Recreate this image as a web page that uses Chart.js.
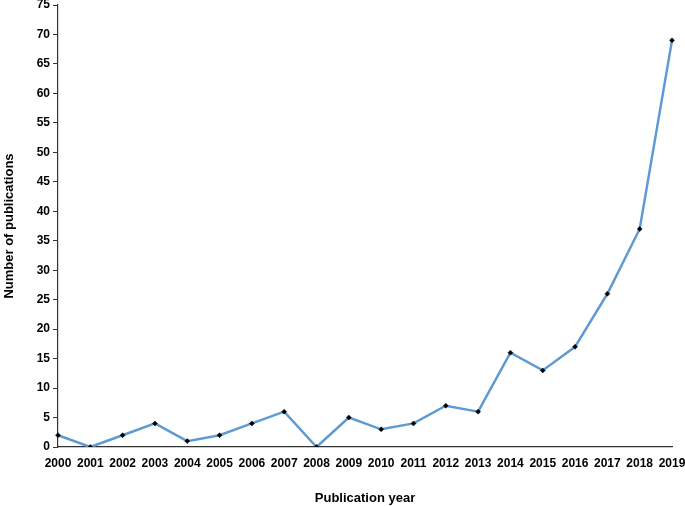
<!DOCTYPE html>
<html lang="en">
<head>
  <meta charset="UTF-8" />
  <title>Publications per year</title>
  <script src="https://cdn.jsdelivr.net/npm/chart.js"></script>
  <style>
    html, body { margin: 0; padding: 0; background: #fff; }
    #wrap { width: 685px; height: 506px; position: relative; }
  </style>
</head>
<body>
  <div id="wrap"><canvas id="grafico"></canvas></div>
  <script>
    const years = ['2000', '2001', '2002', '2003', '2004', '2005', '2006', '2007', '2008', '2009',
                   '2010', '2011', '2012', '2013', '2014', '2015', '2016', '2017', '2018', '2019'];
    const publications = [2, 0, 2, 4, 1, 2, 4, 6, 0, 5, 3, 4, 7, 6, 16, 13, 17, 26, 37, 69];

    const fuente = { family: "'Liberation Sans', Arial, sans-serif", size: 12, weight: 'bold' };

    new Chart(document.getElementById('grafico'), {
      type: 'line',
      data: {
        labels: years,
        datasets: [{
          data: publications,
          borderColor: '#5f9bd3',
          borderWidth: 2.5,
          tension: 0,
          pointStyle: 'rectRot',
          pointRadius: 2.5,
          pointBackgroundColor: '#000',
          pointBorderColor: '#000',
          pointBorderWidth: 0.5
        }]
      },
      options: {
        responsive: true,
        maintainAspectRatio: false,
        animation: false,
        layout: { padding: { top: 0, right: 0, bottom: 0, left: 2 } },
        plugins: { legend: { display: false }, tooltip: { enabled: false } },
        scales: {
          x: {
            offset: false,
            // the last year label hangs past the axis end, keep only a small margin
            afterFit: (escala) => { escala.paddingRight = 13; },
            grid: { display: false, drawTicks: false },
            border: { display: true, color: '#333', width: 1.2 },
            ticks: { color: '#000', font: fuente, padding: 9, maxRotation: 0, autoSkip: false },
            title: {
              display: true, text: 'Publication year', color: '#000',
              font: { ...fuente, size: 13 }, padding: { top: 11, bottom: 0 }
            }
          },
          y: {
            min: 0, max: 75,
            afterFit: (escala) => { escala.width = 56; escala.paddingTop = 5; },
            grid: { drawOnChartArea: false, drawTicks: true, tickLength: 5, color: '#333' },
            border: { display: true, color: '#333', width: 1.2 },
            ticks: { stepSize: 5, color: '#000', font: fuente, padding: 3 },
            title: {
              display: true, text: 'Number of publications', color: '#000',
              font: { ...fuente, size: 13 }, padding: { top: 0, bottom: 8 }
            }
          }
        }
      }
    });
  </script>
</body>
</html>
